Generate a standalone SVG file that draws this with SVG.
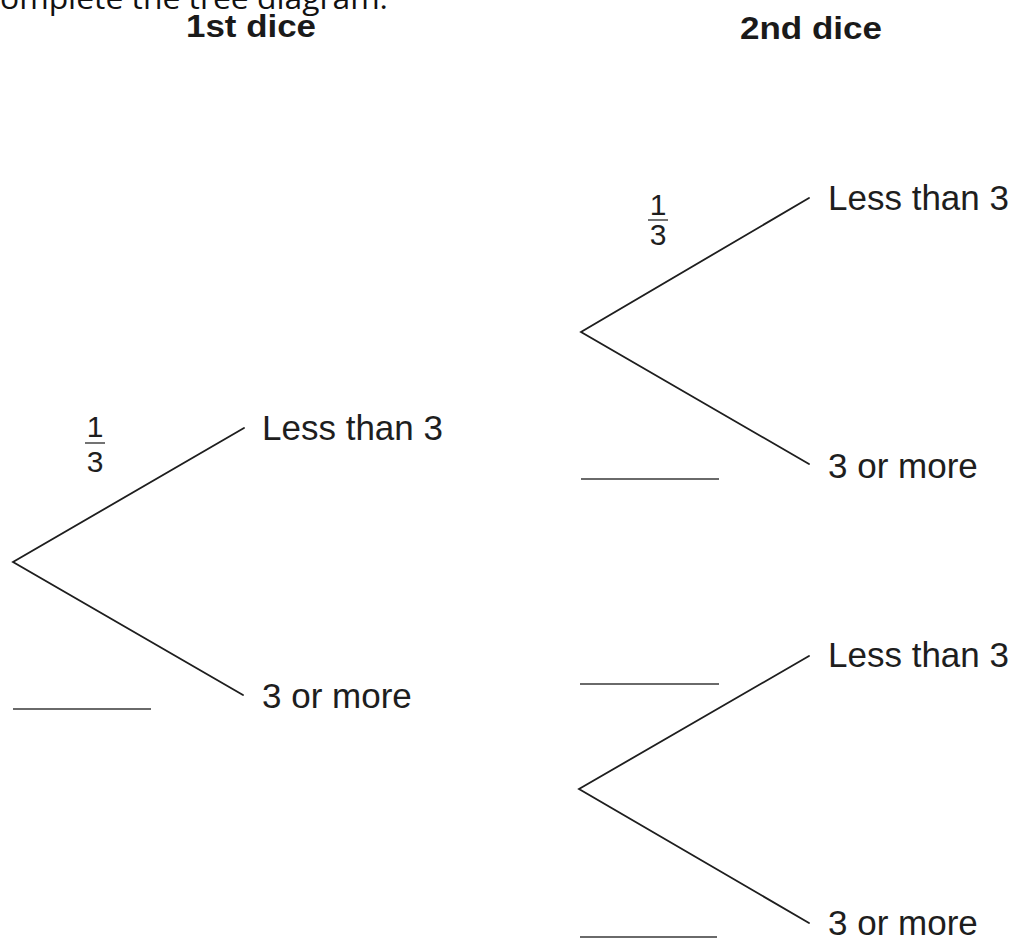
<svg xmlns="http://www.w3.org/2000/svg" width="1015" height="940" viewBox="0 0 1015 940">
  <style>
    .branch { stroke: #1e1e1e; stroke-width: 1.8; fill: none; stroke-linecap: round; }
    .blank { stroke: #6a6a6a; stroke-width: 2; }
    .head { font-family: "Liberation Sans", Arial, sans-serif; font-weight: bold; font-size: 32px; fill: #1a1a1a; }
    .label { font-family: "Liberation Sans", Arial, sans-serif; font-size: 35px; fill: #1e1e1e; }
    .frac { font-family: "Liberation Sans", Arial, sans-serif; font-size: 30px; fill: #1e1e1e; text-anchor: middle; }
    .fracbar { stroke: #444; stroke-width: 1.5; }
    .intro { font-family: "Open Sans", "Liberation Sans", sans-serif; font-size: 30px; fill: #111; }
  </style>
  <rect width="1015" height="940" fill="#ffffff"/>

  <!-- instruction line, partly above the top edge -->
  <text class="intro" x="0" y="9" textLength="388" lengthAdjust="spacingAndGlyphs">omplete the tree diagram.</text>

  <!-- column headings -->
  <text class="head" x="186" y="37" textLength="130" lengthAdjust="spacingAndGlyphs">1st dice</text>
  <text class="head" x="740" y="39" textLength="142" lengthAdjust="spacingAndGlyphs">2nd dice</text>

  <!-- branches -->
  <g id="connectors">
    <polyline class="branch" points="244,428 13,562 243,695"/>
    <polyline class="branch" points="809,198 581,332 809,464"/>
    <polyline class="branch" points="809,656 579,789 809,923"/>
  </g>

  <!-- answer blanks -->
  <g id="blanks">
    <line class="blank" x1="13" y1="709" x2="151" y2="709"/>
    <line class="blank" x1="581" y1="479" x2="719" y2="479"/>
    <line class="blank" x1="580" y1="684" x2="719" y2="684"/>
    <line class="blank" x1="580" y1="937" x2="717" y2="937"/>
  </g>

  <!-- first dice outcomes -->
  <g id="first-less">
    <text class="label" x="262" y="440">Less than 3</text>
  </g>
  <g id="first-more">
    <text class="label" x="262" y="708">3 or more</text>
  </g>
  <g id="first-prob">
    <text class="frac" x="95" y="437">1</text>
    <line class="fracbar" x1="85" y1="443" x2="105" y2="443"/>
    <text class="frac" x="95" y="472">3</text>
  </g>

  <!-- second dice, upper branch -->
  <g id="second-top-less">
    <text class="label" x="828" y="210">Less than 3</text>
  </g>
  <g id="second-top-more">
    <text class="label" x="828" y="478">3 or more</text>
  </g>
  <g id="second-top-prob">
    <text class="frac" x="658" y="215">1</text>
    <line class="fracbar" x1="648" y1="220" x2="668" y2="220"/>
    <text class="frac" x="658" y="245">3</text>
  </g>

  <!-- second dice, lower branch -->
  <g id="second-bottom-less">
    <text class="label" x="828" y="667">Less than 3</text>
  </g>
  <g id="second-bottom-more">
    <text class="label" x="828" y="935">3 or more</text>
  </g>
</svg>
